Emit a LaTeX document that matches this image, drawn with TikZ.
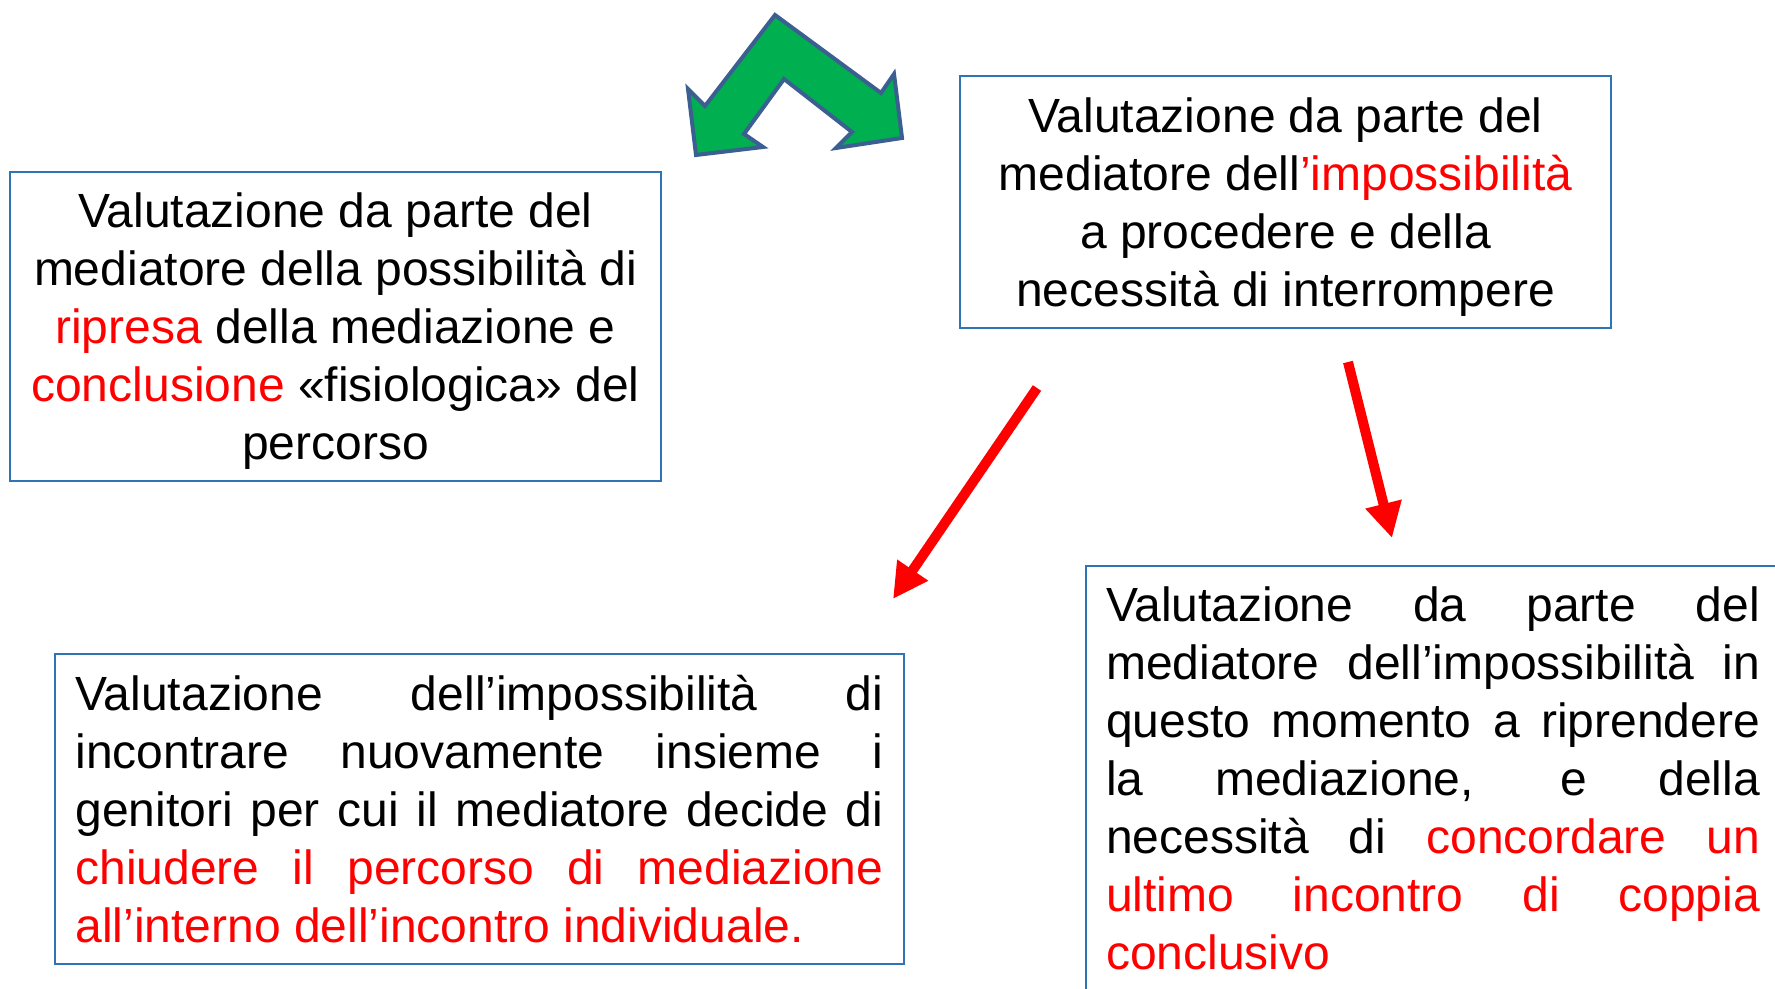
\documentclass[tikz,border=0pt]{standalone}
\usepackage{fontspec}
\setmainfont{Liberation Sans}
\usepackage{xcolor}
\usepackage{tikz}
\usetikzlibrary{arrows.meta,positioning}

\definecolor{boxblue}{RGB}{47,117,181}
\definecolor{arrgreen}{RGB}{0,176,80}
\definecolor{arrrim}{RGB}{60,95,145}

\begin{document}
\begin{tikzpicture}[
  x=0.5pt,y=-0.5pt,
  box/.style={rectangle,draw=boxblue,line width=1pt,
              font=\fontsize{24}{29}\selectfont},
  centbox/.style={box,align=center,inner sep=0pt},
  justbox/.style={box,align=justify,inner xsep=10pt},
  redarr/.style={-{Triangle[length=17.5pt,width=17.5pt]},line width=5pt,draw=red},
  dblarrow/.style={fill=arrgreen,draw=arrrim,line width=2pt,line join=miter}
]
  \useasboundingbox (0,0) rectangle (1775,989);

  \node[centbox,minimum width=325.5pt,minimum height=154.5pt] (ripresa) at (335.5,326.5)
    {\rule{0pt}{22pt}Valutazione da parte del\\
     mediatore della possibilità di\\
     \textcolor{red}{ripresa} della mediazione e\\
     \textcolor{red}{conclusione} «fisiologica» del\\
     percorso};
  \node[centbox,minimum width=325.5pt,minimum height=126pt] (stop) at (1285.5,202)
    {\rule{0pt}{22pt}Valutazione da parte del\\
     mediatore dell\textcolor{red}{’impossibilità}\\
     a procedere e della\\
     necessità di interrompere};
  \node[justbox,text width=404pt,inner xsep=10.25pt,minimum height=155pt] (chiudi) at (479.5,809)
    {Valutazione dell’impossibilità di\linebreak
     incontrare nuovamente insieme i\linebreak
     genitori per cui il mediatore decide di\linebreak
     \textcolor{red}{chiudere il percorso di mediazione\linebreak
     all’interno dell’incontro individuale.}};
  \node[justbox,text width=327pt,inner ysep=10.5pt,anchor=north west] (ultimo) at (1085,565)
    {Valutazione da parte del\linebreak
     mediatore dell’impossibilità in\linebreak
     questo momento a riprendere\linebreak
     la mediazione, e della\linebreak
     necessità di \textcolor{red}{concordare un\linebreak
     ultimo incontro di coppia\linebreak
     conclusivo}};

  % free ends of the red arrows
  \coordinate (chiudiTail) at (1037,388);
  \coordinate (chiudiTip) at (893,599);
  \coordinate (ultimoTail) at (1348,362);
  \coordinate (ultimoTip) at (1392,538);

  \draw[redarr] (chiudiTail) -- (chiudiTip);
  \draw[redarr] (ultimoTail) -- (ultimoTip);

  % green double arrow
  \draw[dblarrow] (705,106) -- (775,15) -- (881,93) -- (894,74) -- (902,138)
    -- (836,148) -- (852,132) -- (784,79) -- (744,134) -- (763,147)
    -- (696,155) -- (688,89) -- cycle;
\end{tikzpicture}
\end{document}
